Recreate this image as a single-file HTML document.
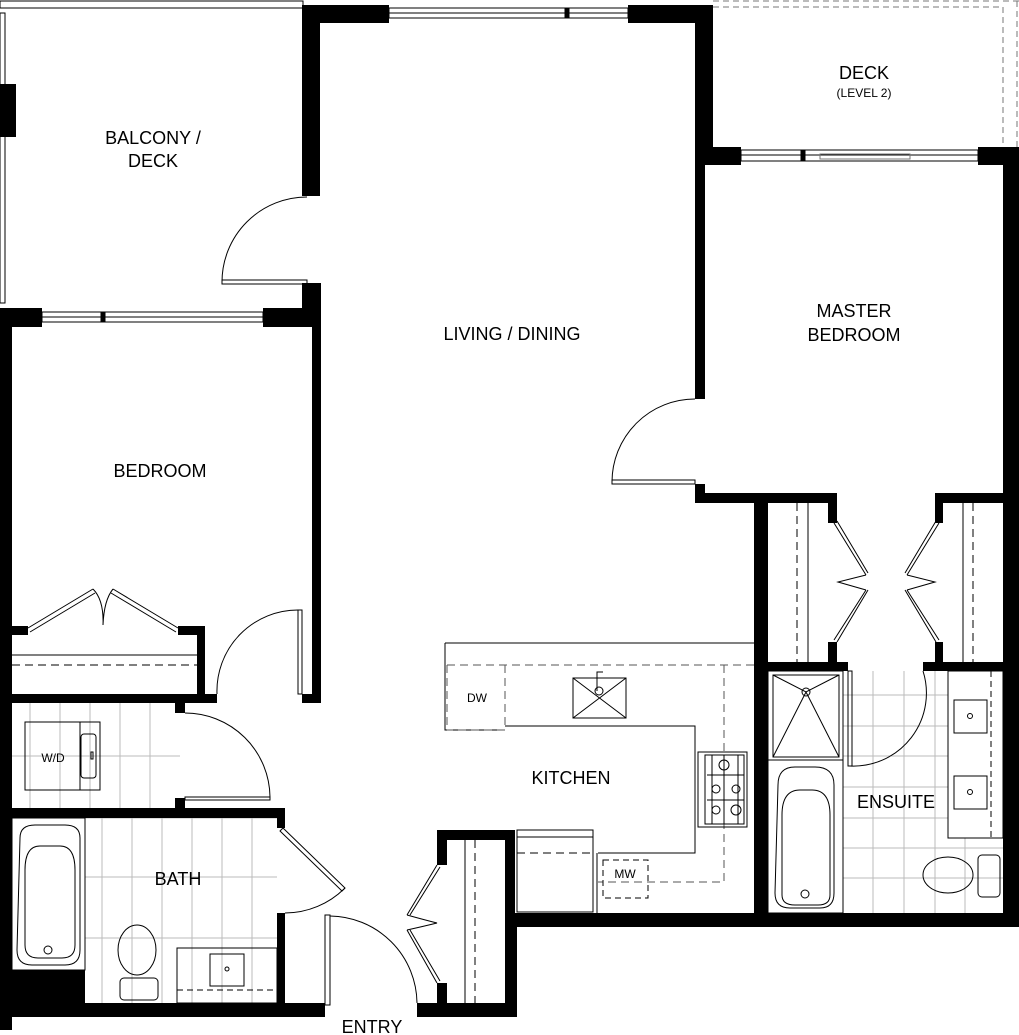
<!DOCTYPE html>
<html><head><meta charset="utf-8"><style>
html,body{margin:0;padding:0;background:#fff}
svg{display:block}
text{font-family:"Liberation Sans",sans-serif;fill:#000}
</style></head><body>
<svg width="1019" height="1035" viewBox="0 0 1019 1035" xmlns="http://www.w3.org/2000/svg">
<g stroke="#bbb" stroke-width="1">
<line x1="30" y1="703" x2="30" y2="808"/><line x1="60" y1="703" x2="60" y2="808"/><line x1="90" y1="703" x2="90" y2="808"/><line x1="120" y1="703" x2="120" y2="808"/><line x1="150" y1="703" x2="150" y2="808"/><line x1="12" y1="756" x2="180" y2="756"/>
<line x1="85" y1="818" x2="277" y2="818"/><line x1="85" y1="877" x2="277" y2="877"/><line x1="85" y1="938" x2="277" y2="938"/>
<line x1="132" y1="818" x2="132" y2="1003"/><line x1="162" y1="818" x2="162" y2="1003"/><line x1="192" y1="818" x2="192" y2="1003"/><line x1="222" y1="818" x2="222" y2="1003"/><line x1="252" y1="818" x2="252" y2="1003"/><line x1="102" y1="818" x2="102" y2="1003"/>
<line x1="843" y1="695" x2="948" y2="695"/><line x1="843" y1="726" x2="948" y2="726"/><line x1="843" y1="756" x2="948" y2="756"/><line x1="843" y1="787" x2="948" y2="787"/><line x1="843" y1="818" x2="948" y2="818"/><line x1="843" y1="848" x2="1003" y2="848"/><line x1="843" y1="878" x2="1003" y2="878"/>
<line x1="873" y1="671" x2="873" y2="913"/><line x1="904" y1="671" x2="904" y2="913"/><line x1="935" y1="671" x2="935" y2="913"/><line x1="965" y1="838" x2="965" y2="913"/>
</g>
<g fill="#000">
<rect x="302" y="5" width="87" height="18"/>
<rect x="302" y="5" width="18" height="191"/>
<rect x="302" y="283" width="18" height="44"/>
<rect x="312" y="283" width="9" height="420"/>
<rect x="302" y="694" width="19" height="9"/>
<rect x="628" y="5" width="85" height="18"/>
<rect x="695" y="5" width="18" height="160"/>
<rect x="695" y="147" width="46" height="18"/>
<rect x="695" y="147" width="10" height="252"/>
<rect x="978" y="147" width="41" height="18"/>
<rect x="1003" y="147" width="16" height="780"/>
<rect x="695" y="484" width="10" height="19"/>
<rect x="695" y="493" width="142" height="10"/>
<rect x="828" y="493" width="9" height="30"/>
<rect x="935" y="493" width="68" height="10"/>
<rect x="935" y="493" width="8" height="30"/>
<rect x="828" y="642" width="9" height="29"/>
<rect x="935" y="642" width="8" height="29"/>
<rect x="754" y="493" width="14" height="434"/>
<rect x="768" y="662" width="80" height="9"/>
<rect x="923" y="662" width="80" height="9"/>
<rect x="505" y="913" width="514" height="14"/>
<rect x="505" y="830" width="10" height="97"/>
<rect x="437" y="830" width="78" height="10"/>
<rect x="437" y="830" width="10" height="35"/>
<rect x="437" y="983" width="10" height="20"/>
<rect x="417" y="1003" width="100" height="14"/>
<rect x="505" y="913" width="12" height="104"/>
<rect x="0" y="308" width="42" height="19"/>
<rect x="263" y="308" width="57" height="19"/>
<rect x="0" y="84" width="16" height="53"/>
<rect x="0" y="308" width="12" height="722"/>
<rect x="12" y="626" width="16" height="9"/>
<rect x="178" y="626" width="27" height="9"/>
<rect x="197" y="626" width="8" height="77"/>
<rect x="12" y="694" width="205" height="9"/>
<rect x="175" y="703" width="10" height="10"/>
<rect x="175" y="798" width="10" height="12"/>
<rect x="12" y="808" width="273" height="10"/>
<rect x="277" y="808" width="8" height="20"/>
<rect x="277" y="913" width="8" height="95"/>
<rect x="0" y="1003" width="325" height="14"/>
<rect x="12" y="970" width="73" height="33"/>
</g>
<g fill="none" stroke="#000" stroke-width="1">
<rect x="389" y="8" width="239" height="10"/><line x1="389" y1="13" x2="628" y2="13"/><rect x="565" y="8" width="4" height="10" fill="#000"/>
<rect x="42" y="312" width="221" height="10"/><line x1="42" y1="317" x2="263" y2="317"/><rect x="101" y="312" width="4" height="10" fill="#000"/>
<rect x="741" y="150" width="237" height="11"/><line x1="741" y1="155" x2="978" y2="155"/><rect x="801" y="150" width="4" height="11" fill="#000"/><rect x="820" y="154" width="90" height="5" stroke="#777"/>
<rect x="0" y="1" width="303" height="7"/>
<rect x="0" y="13" width="5" height="290"/>
<g stroke="#777" stroke-dasharray="6,4"><line x1="713" y1="1" x2="1019" y2="1"/><line x1="713" y1="7" x2="1003" y2="7"/><line x1="1003" y1="7" x2="1003" y2="147"/><line x1="1017" y1="1" x2="1017" y2="147"/></g>
<rect x="222" y="280" width="85" height="4"/><path d="M222 282 A85 85 0 0 1 307 197"/>
<rect x="612" y="480" width="83" height="4"/><path d="M612 482 A83 83 0 0 1 695 399"/>
<rect x="298" y="610" width="4" height="84"/><path d="M217 694 A81 81 0 0 1 298 610"/>
<rect x="185" y="797" width="85" height="3"/><path d="M185 713 A85 85 0 0 1 270 797"/>
<path d="M283 828 L345 888 L342 891 L280 831 Z"/><path d="M345 888 A85 85 0 0 1 285 913"/>
<rect x="325" y="915" width="5" height="90"/><path d="M330 916 A88 88 0 0 1 417 1003"/>
<path d="M437 865 L407 915 M440 867 L410 915 M407 915 Q425 920 437 923 Q425 926 407 930 M407 930 L437 983 M410 930 L440 981"/>
<path d="M28 628 L93 589 M30 632 L95 593 M178 628 L113 589 M176 632 L111 593 M93 589 Q104 600 103 625 Q104 600 113 589"/>
<line x1="12" y1="655" x2="197" y2="655"/><line x1="12" y1="665" x2="197" y2="665" stroke-dasharray="8,5"/>
<line x1="465" y1="840" x2="465" y2="1003"/><line x1="475" y1="840" x2="475" y2="1003" stroke-dasharray="8,5"/>
<line x1="797" y1="503" x2="797" y2="662" stroke-dasharray="8,5"/><line x1="808" y1="503" x2="808" y2="662"/>
<line x1="963" y1="503" x2="963" y2="662"/><line x1="973" y1="503" x2="973" y2="662" stroke-dasharray="8,5"/>
<path d="M834 523 L866 575 M837 521 L868 573 M866 575 L838 582 L866 590 M868 590 L837 642 M866 590 L834 640"/>
<path d="M939 523 L907 575 M936 521 L905 573 M907 575 L935 582 L907 590 M905 590 L936 642 M907 590 L939 640"/>
<rect x="848" y="671" width="4" height="95"/><path d="M850 766 A73 73 0 0 0 923 671"/>
<path d="M445 643 L754 643"/><path d="M445 643 L445 730 L505 730"/>
<path d="M447 665 L754 665 M724 665 L724 882 L598 882 M447 665 L447 730 M505 665 L505 730 L447 730" stroke-dasharray="8,5" stroke="#555"/>
<path d="M505 726 L695 726 L695 853 L598 853"/>
<rect x="573" y="678" width="53" height="40"/><path d="M573 678 L626 718 M626 678 L573 718"/><circle cx="599" cy="691" r="4"/><path d="M597 691 L597 672 L603 672"/>
<rect x="698" y="752" width="49" height="75"/><rect x="705" y="755" width="39" height="69"/>
<circle cx="724" cy="765" r="5"/><circle cx="716" cy="789" r="4"/><circle cx="736" cy="789" r="4"/><circle cx="716" cy="810" r="4"/><circle cx="736" cy="810" r="5"/>
<path d="M707 775 L744 775 M707 800 L744 800 M724 755 L724 824 M712 755 L712 824 M738 755 L738 824"/>
<rect x="517" y="830" width="76" height="82"/><line x1="517" y1="837" x2="593" y2="837"/><line x1="517" y1="853" x2="593" y2="853" stroke-dasharray="8,5"/>
<line x1="597" y1="853" x2="597" y2="913"/>
<rect x="603" y="860" width="45" height="38" stroke-dasharray="6,4"/>
<rect x="25" y="722" width="75" height="68"/><rect x="80" y="722" width="20" height="68"/><rect x="81" y="734" width="15" height="44" rx="3"/><rect x="91" y="752" width="2" height="7"/>
<rect x="12" y="818" width="73" height="152"/>
<path d="M20 838 Q20 825 35 825 L65 825 Q80 825 80 838 L80 950 Q80 965 65 965 L32 965 Q17 965 17 950 Z"/>
<path d="M25 870 Q25 846 40 846 L60 846 Q75 846 75 870 L75 945 Q75 958 62 958 L38 958 Q25 958 25 945 Z"/>
<circle cx="48" cy="950" r="4"/>
<ellipse cx="137" cy="950" rx="19" ry="25"/><rect x="120" y="978" width="38" height="22" rx="4"/>
<rect x="177" y="948" width="100" height="55"/><rect x="210" y="954" width="34" height="32"/><circle cx="227" cy="969" r="2"/><line x1="177" y1="990" x2="277" y2="990" stroke-dasharray="6,4"/>
<rect x="768" y="671" width="75" height="242"/>
<rect x="773" y="675" width="66" height="82"/><path d="M773 675 L806 692 L839 675 M806 692 L773 757 M806 692 L839 757"/><circle cx="806" cy="692" r="4"/>
<line x1="768" y1="760" x2="843" y2="760"/>
<path d="M778 785 Q778 767 795 767 L815 767 Q834 767 834 785 L834 893 Q834 908 820 908 L790 908 Q775 908 775 893 Z"/>
<path d="M782 815 Q782 790 800 790 L812 790 Q830 790 830 815 L830 895 Q830 905 818 905 L795 905 Q782 905 782 895 Z"/>
<circle cx="805" cy="894" r="4"/>
<rect x="948" y="671" width="55" height="167"/><line x1="991" y1="671" x2="991" y2="838" stroke-dasharray="6,4"/>
<rect x="954" y="700" width="33" height="33"/><circle cx="970" cy="716" r="2.5"/>
<rect x="954" y="776" width="33" height="33"/><circle cx="970" cy="792" r="2.5"/>
<ellipse cx="948" cy="875" rx="25" ry="18"/><rect x="978" y="855" width="22" height="42" rx="4"/>
</g>
<g font-size="18" text-anchor="middle">
<text x="153" y="144">BALCONY /</text><text x="153" y="167">DECK</text>
<text x="512" y="340">LIVING / DINING</text>
<text x="854" y="317">MASTER</text><text x="854" y="341">BEDROOM</text>
<text x="160" y="477">BEDROOM</text>
<text x="864" y="79">DECK</text>
<text x="571" y="784">KITCHEN</text>
<text x="896" y="808">ENSUITE</text>
<text x="178" y="885">BATH</text>
<text x="372" y="1033">ENTRY</text>
</g>
<g font-size="12" text-anchor="middle">
<text x="864" y="97">(LEVEL 2)</text>
<text x="53" y="762">W/D</text>
<text x="477" y="702">DW</text>
<text x="625" y="878">MW</text>
</g>
</svg>
</body></html>
